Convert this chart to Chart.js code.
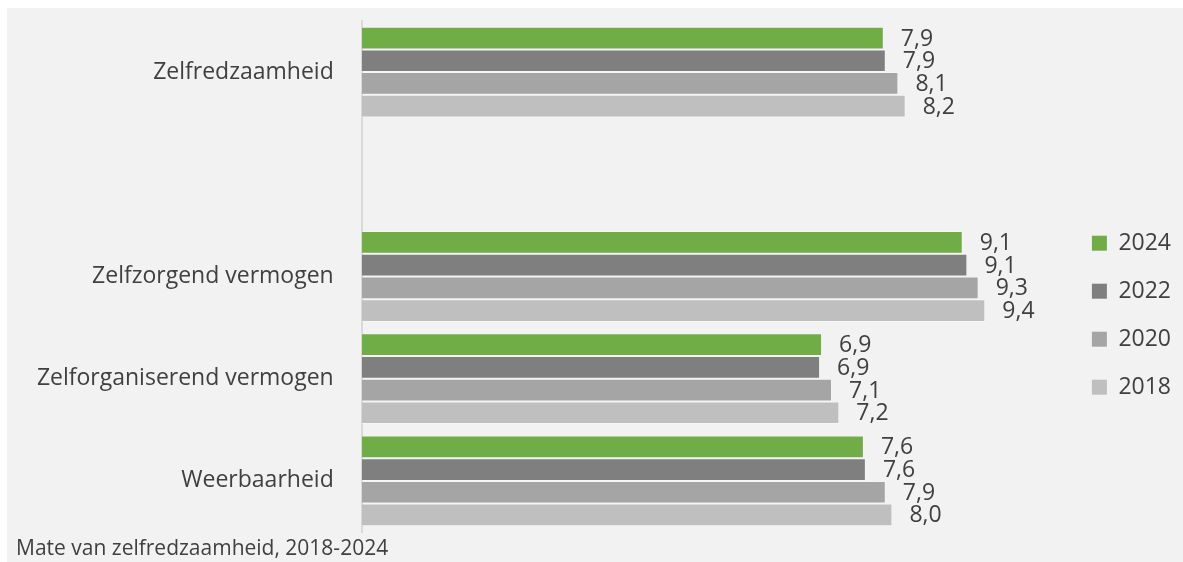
<!DOCTYPE html>
<html>
<head>
<meta charset="utf-8">
<script src="https://cdn.jsdelivr.net/npm/chart.js@4"></script>
<style>
  html, body { margin: 0; padding: 0; background: #ffffff; }
  #wrap { position: absolute; left: 7px; top: 8px; width: 1176px; height: 554px; background: #f2f2f2; }
  canvas { display: block; }
</style>
</head>
<body>
<div id="wrap"><canvas id="chart" width="1176" height="554"></canvas></div>
<script>
// categories (the empty one is the blank slot under Zelfredzaamheid)
const CATEGORIES = ['Zelfredzaamheid', '', 'Zelfzorgend vermogen', 'Zelforganiserend vermogen', 'Weerbaarheid'];
const YEARS = ['2024', '2022', '2020', '2018'];
const COLORS = ['#70ad47', '#7f7f7f', '#a5a5a5', '#bfbfbf'];

const Y2024 = [7.87, null, 9.06, 6.94, 7.57];
const Y2022 = [7.9, null, 9.13, 6.91, 7.6];
const Y2020 = [8.09, null, 9.3, 7.09, 7.9];
const Y2018 = [8.2, null, 9.4, 7.2, 8.0];

const CAPTION = 'Mate van zelfredzaamheid, 2018-2024';
const TEXT = '#404040';
const FONT = "'Open Sans', 'DejaVu Sans', sans-serif";

function fmt(v){ return v.toFixed(1).replace('.', ','); }

// value labels right of each bar
const barLabels = {
  id: 'barLabels',
  afterDatasetsDraw(chart) {
    const ctx = chart.ctx;
    ctx.save();
    ctx.font = '23px ' + FONT;
    ctx.fillStyle = TEXT;
    ctx.textAlign = 'left';
    ctx.textBaseline = 'middle';
    chart.data.datasets.forEach((ds, di) => {
      const meta = chart.getDatasetMeta(di);
      meta.data.forEach((bar, i) => {
        const v = ds.data[i];
        if (v == null) return;
        ctx.fillText(fmt(v), bar.x + 17, bar.y + 1);
      });
    });
    ctx.restore();
  }
};

const series = [Y2024, Y2022, Y2020, Y2018];

new Chart(document.getElementById('chart'), {
  type: 'bar',
  data: {
    labels: CATEGORIES,
    datasets: YEARS.map((y, i) => ({
      label: y,
      data: series[i],
      backgroundColor: COLORS[i],
      borderColor: 'rgba(255,255,255,0.35)',
      borderWidth: 1,
      categoryPercentage: 0.888,
      barPercentage: 1
    }))
  },
  options: {
    indexAxis: 'y',
    responsive: false,
    animation: false,
    layout: { padding: { left: 9, top: 13, right: 2, bottom: 0 } },
    scales: {
      x: { display: false, min: 0, max: 10.63 },
      y: {
        grid: { display: false, drawTicks: false },
        border: { display: true, color: '#d9d9d9', width: 2 },
        ticks: { color: TEXT, font: { family: FONT, size: 23 }, padding: 28 },
        afterFit: (axis) => {
          axis.width = 345.7;
          // tick padding should not push the plot area in from top/bottom
          axis.paddingTop = 0;
          axis.paddingBottom = 0;
        }
      }
    },
    plugins: {
      tooltip: { enabled: false },
      legend: {
        position: 'right',
        align: 'center',
        title: { display: true, text: '', font: { size: 12 }, padding: { top: 33, bottom: 0 } },
        labels: {
          color: TEXT,
          font: { family: FONT, size: 23 },
          boxWidth: 15,
          boxHeight: 15,
          padding: 25,
          generateLabels: (chart) => Chart.defaults.plugins.legend.labels.generateLabels(chart)
            .map(l => Object.assign(l, { lineWidth: 0 }))
        }
      },
      title: {
        display: true,
        position: 'bottom',
        align: 'start',
        text: CAPTION,
        color: TEXT,
        font: { family: FONT, size: 21, weight: 'normal' },
        padding: { top: 4.8, bottom: 0 }
      }
    }
  },
  plugins: [barLabels]
});
</script>
</body>
</html>
